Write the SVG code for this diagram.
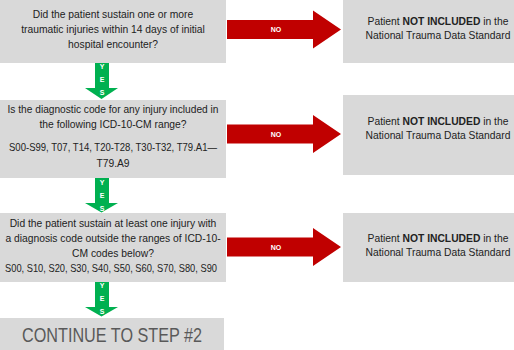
<svg xmlns="http://www.w3.org/2000/svg" width="514" height="350" viewBox="0 0 514 350">
<style>
.box{fill:#d9d9d9}
.t{font-family:"Liberation Sans",Arial,sans-serif;font-size:10.3px;fill:#222;text-anchor:middle}
.no{font-family:"Liberation Sans",Arial,sans-serif;font-size:7px;font-weight:bold;fill:#fff;text-anchor:middle}
.yes{font-family:"Liberation Sans",Arial,sans-serif;font-size:7px;font-weight:bold;fill:#fff;text-anchor:middle}
.red{fill:#c00000}
.green{fill:#00b050}
</style>
<rect width="514" height="350" fill="#fff"/>
<g id="q1">
<rect class="box" x="0" y="0" width="226" height="63"/>
<text class="t" x="113" y="18">Did the patient sustain one or more</text>
<text class="t" x="113" y="33">traumatic injuries within 14 days of initial</text>
<text class="t" x="113" y="48">hospital encounter?</text>
</g>
<g id="q2">
<rect class="box" x="0" y="100" width="226" height="78"/>
<text class="t" x="113" y="113" textLength="211" lengthAdjust="spacingAndGlyphs">Is the diagnostic code for any injury included in</text>
<text class="t" x="113" y="128">the following ICD-10-CM range?</text>
<text class="t" x="113" y="151" textLength="208" lengthAdjust="spacingAndGlyphs">S00-S99, T07, T14, T20-T28, T30-T32, T79.A1—</text>
<text class="t" x="113" y="166.5">T79.A9</text>
</g>
<g id="q3">
<rect class="box" x="0" y="213" width="226" height="69"/>
<text class="t" x="113" y="227">Did the patient sustain at least one injury with</text>
<text class="t" x="113" y="242">a diagnosis code outside the ranges of ICD-10-</text>
<text class="t" x="113" y="257">CM codes below?</text>
<text class="t" x="111" y="272" textLength="212" lengthAdjust="spacingAndGlyphs">S00, S10, S20, S30, S40, S50, S60, S70, S80, S90</text>
</g>
<g id="continue">
<rect class="box" x="0" y="318" width="224" height="32"/>
<text x="112" y="342" font-family="'Liberation Sans',Arial,sans-serif" font-size="21" fill="#595959" text-anchor="middle" textLength="180" lengthAdjust="spacingAndGlyphs">CONTINUE TO STEP #2</text>
</g>
<g id="n1">
<rect class="box" x="343" y="0" width="171" height="63"/>
<text class="t" x="438" y="25">Patient <tspan font-weight="bold">NOT INCLUDED</tspan> in the</text>
<text class="t" x="438" y="39">National Trauma Data Standard</text>
</g>
<g id="n2">
<rect class="box" x="343" y="95" width="171" height="80"/>
<text class="t" x="438" y="125">Patient <tspan font-weight="bold">NOT INCLUDED</tspan> in the</text>
<text class="t" x="438" y="139">National Trauma Data Standard</text>
</g>
<g id="n3">
<rect class="box" x="343" y="213" width="171" height="69"/>
<text class="t" x="438" y="242">Patient <tspan font-weight="bold">NOT INCLUDED</tspan> in the</text>
<text class="t" x="438" y="256">National Trauma Data Standard</text>
</g>
<g id="connectors">
<polygon class="red" points="227,20 313,20 313,10.5 341,29.5 313,48.5 313,39 227,39"/>
<text class="no" x="276" y="32">NO</text>
<polygon class="red" points="227,124.5 313,124.5 313,115 341,134 313,153 313,143.5 227,143.5"/>
<text class="no" x="276" y="136.5">NO</text>
<polygon class="red" points="227,237.5 313,237.5 313,228 341,247 313,266 313,256.5 227,256.5"/>
<text class="no" x="276" y="249.5">NO</text>
<polygon class="green" points="95,63 109,63 109,88 118,88 101.5,99 85,88 95,88"/>
<text class="yes" x="102" y="69">Y</text>
<text class="yes" x="102" y="82">E</text>
<text class="yes" x="102" y="95">S</text>
<polygon class="green" points="95,178 109,178 109,203 118,203 101.5,212.5 85,203 95,203"/>
<text class="yes" x="102" y="185">Y</text>
<text class="yes" x="102" y="198">E</text>
<text class="yes" x="102" y="211">S</text>
<polygon class="green" points="95,282 109,282 109,307 118,307 101.5,316.5 85,307 95,307"/>
<text class="yes" x="102" y="288">Y</text>
<text class="yes" x="102" y="301">E</text>
<text class="yes" x="102" y="314">S</text>
</g>
</svg>
